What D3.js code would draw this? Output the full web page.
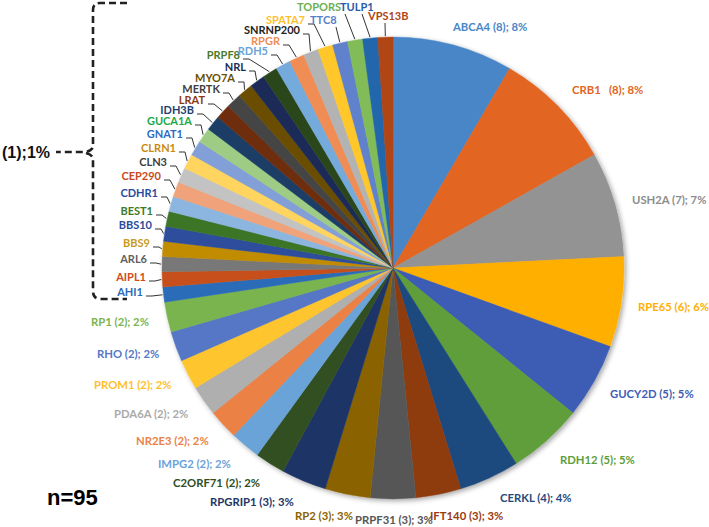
<!DOCTYPE html>
<html><head><meta charset="utf-8">
<script src="https://cdn.jsdelivr.net/npm/d3@7"></script>
<style>body{margin:0;background:#fff}svg{display:block}text{font-family:Lato,"Open Sans",sans-serif;font-weight:bold}</style>
</head><body>
<svg id="c" width="709" height="527"></svg>
<script>
// ---- data ----
const genes = ["ABCA4","CRB1","USH2A","RPE65","GUCY2D","RDH12","CERKL","IFT140","PRPF31","RP2","RPGRIP1","C2ORF71","IMPG2","NR2E3","PDA6A","PROM1","RHO","RP1",
"AHI1","AIPL1","ARL6","BBS9","BBS10","BEST1","CDHR1","CEP290","CLN3","CLRN1","GNAT1","GUCA1A","IDH3B","LRAT","MERTK","MYO7A","NRL","PRPF8","RDH5","RPGR","SNRNP200","SPATA7","TTC8","TOPORS","TULP1","VPS13B"];
const counts = [8,8,7,6,5,5,4,3,3,3,3,2,2,2,2,2,2,2,
1,1,1,1,1,1,1,1,1,1,1,1,1,1,1,1,1,1,1,1,1,1,1,1,1,1];
const percents = [8,8,7,6,5,5,4,3,3,3,3,2,2,2,2,2,2,2];
const total = 95;
const groupLabel = "(1);1%";

// ---- styles ----
const sliceColors = ["#4A86C8","#E26521","#939393","#FFAF00","#3C5DB5","#5E9E3A","#1F4A7E","#8E3A10","#575757","#8A6400","#1F3466","#324F22","#6AA3D8","#EC8145","#AFAFAF","#FFC52E","#5477C6","#7AB44F",
"#2C6CB8","#C6501A","#787878","#C18C00","#2D4E9C","#3E7428","#8CB6E0","#F0A37A","#C3C3C3","#FFD45E","#839FD8","#9ECC84","#1B3E66","#6E2D0A","#444444","#6A4E00","#1A2B58","#2B461E","#75AADC","#EF8D55","#B3B3B3","#FFC72A","#6181CC","#82BC58","#2466AC","#B04513"];
const labelColors = ["#4A86C8","#E26521","#8C8C8C","#FFAF00","#3C5DB5","#5E9E3A","#1F4A7E","#9A3A10","#555555","#8A6400","#1F3466","#2D4F22","#6AA3D8","#EC8145","#AAAAAA","#FFC02E","#5477C6","#7AB44F",
"#2A6AB8","#D04A1A","#606060","#C89A20","#2A4AA0","#3D7A28","#2A4AA0","#C84A20","#404040","#C88A10","#2F6BC4","#22A84A","#1F3E70","#8E3A10","#404040","#6A4E00","#1A2B58","#4A7A2A","#6AA3D8","#EF8D55","#222222","#FFC02E","#5A7FCC","#6AB04F","#2A5AA8","#B04513"];
// label layout: [x, y(center), anchor, leaderStyle]
const labelPos = [
[453,27,"start"],[572,90,"start"],[632,200,"start"],[638,307,"start"],[610,394,"start"],[560,460,"start"],[500,498,"start"],[430,516,"start"],[355,520,"start"],[295,516,"start"],[210,502,"start"],[173,483,"start"],[158,464,"start"],[136,441,"start"],[114,414,"start"],[94,385,"start"],[97,354,"start"],[91,322,"start"],
[143,292,"end","L"],[146,277,"end","L"],[147,259,"end","L"],[150,243,"end","L"],[152,225,"end","L"],[153,211,"end","L"],[158,193,"end","L"],[161,176,"end","L"],[167,162,"end","L"],[176,148,"end","L"],[183,134,"end","L"],[192,121,"end","L"],[194,110,"end","L"],[205,100,"end","L"],[220,89,"end","L"],[235,78,"end","L"],[246,67,"end","L"],[240,55,"end","L"],
[268,51,"end","L"],[280,41,"end","L"],[300,30,"end","L"],[305,20,"end","L"],[310,20,"start","T"],[297,7,"start","T"],[340,7,"start","T"],[368,16,"start","T"]];
const topLeadX = [336,345,362,385];

const W=709,H=527,cx=393,cy=268,R=231;
const svg=d3.select("#c");
const defs=svg.append("defs");
const f=defs.append("filter").attr("id","sh").attr("x","-10%").attr("y","-10%").attr("width","120%").attr("height","120%");
f.append("feDropShadow").attr("dx",2).attr("dy",2).attr("stdDeviation",2.5).attr("flood-color","#000").attr("flood-opacity",0.35);

const data = genes.map((g,i)=>({gene:g,count:counts[i],i}));
const pie=d3.pie().value(d=>d.count).sort(null).startAngle(0).endAngle(2*Math.PI);
const arcs=pie(data);
const arc=d3.arc().innerRadius(0).outerRadius(R);
const g=svg.append("g").attr("transform",`translate(${cx},${cy})`);
const pg=g.append("g").attr("filter","url(#sh)");
pg.selectAll("path").data(arcs).join("path").attr("d",arc).attr("fill",d=>sliceColors[d.data.i]).attr("stroke",d=>sliceColors[d.data.i]).attr("stroke-width",0.4);

const lab=svg.append("g");
arcs.forEach(a=>{
  const i=a.data.i, p=labelPos[i];
  const txt = i<percents.length ? (a.data.gene==="CRB1" ? `${a.data.gene}   (${a.data.count}); ${percents[i]}%` : `${a.data.gene} (${a.data.count}); ${percents[i]}%`) : a.data.gene;
  const t=lab.append("text").attr("x",p[0]).attr("y",p[1]+4).attr("text-anchor",p[2]).attr("fill",labelColors[i]).style("font-size",i<percents.length?"11.3px":"11px").style("white-space","pre").text(txt);
  if(p[3]){
    const m=(a.startAngle+a.endAngle)/2;
    const ex=cx+(R+1)*Math.sin(m), ey=cy-(R+1)*Math.cos(m);
    let d;
    if(p[3]==="L"){ d=`M${p[0]+3},${p[1]+4} h6 L${ex},${ey}`; }
    else { const lx=topLeadX[i-40]; d=`M${lx},${p[1]+7} L${ex},${ey}`; }
    lab.append("path").attr("d",d).attr("fill","none").attr("stroke","#333").attr("stroke-width",1);
  }
});

// bracket
const br=svg.append("g").attr("fill","none").attr("stroke","#222").attr("stroke-width",2.6).attr("stroke-dasharray","7,4");
br.append("path").attr("d","M127,3 H100 Q93,3 93,10 V146 Q93,150 86,152 H56");
br.append("path").attr("d","M86,153 Q93,155 93,159 V291 Q93,299 101,299 H127");
svg.append("text").attr("x",2).attr("y",158).attr("fill","#111").style("font-family","'Liberation Sans',Arial,sans-serif").style("font-size","16px").text(groupLabel);
svg.append("text").attr("x",47).attr("y",505).attr("fill","#000").style("font-family","'Liberation Sans',Arial,sans-serif").style("font-size","22px").text(`n=${total}`);
</script></body></html>
